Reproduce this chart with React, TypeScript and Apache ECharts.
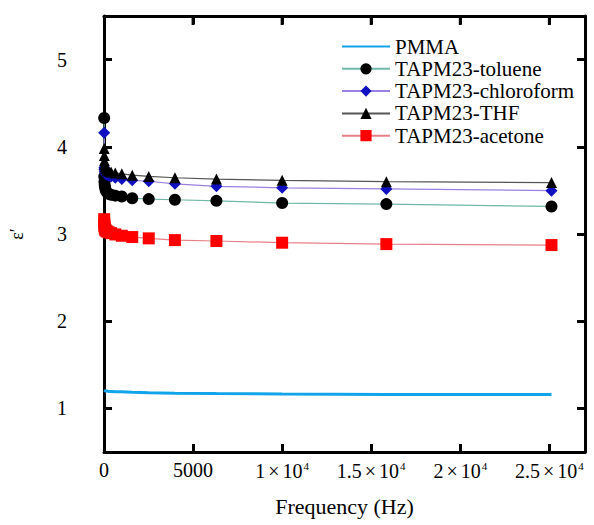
import React, { useEffect, useRef } from "react";
import * as echarts from "echarts";

const frequencies = [10, 15.85, 25.12, 39.81, 63.1, 100, 158.5, 251.2, 398.1, 631, 1000, 1585, 2512, 3981, 6310, 10000, 15849, 25119];
const pmma = [1.21, 1.21, 1.205, 1.205, 1.2, 1.2, 1.2, 1.195, 1.195, 1.19, 1.19, 1.185, 1.18, 1.175, 1.17, 1.165, 1.16, 1.16];
const toluene = [4.33, 3.66, 3.6, 3.56, 3.53, 3.5, 3.48, 3.46, 3.45, 3.44, 3.43, 3.41, 3.4, 3.393, 3.38, 3.355, 3.343, 3.316];
const chloroform = [4.16, 3.76, 3.74, 3.72, 3.7, 3.69, 3.68, 3.67, 3.66, 3.645, 3.63, 3.616, 3.605, 3.575, 3.547, 3.53, 3.517, 3.497];
const thf = [3.98, 3.9, 3.84, 3.8, 3.77, 3.75, 3.73, 3.72, 3.71, 3.7, 3.69, 3.675, 3.66, 3.645, 3.63, 3.615, 3.6, 3.59];
const acetone = [3.17, 3.12, 3.09, 3.07, 3.05, 3.04, 3.03, 3.02, 3.01, 2.995, 2.98, 2.965, 2.95, 2.93, 2.92, 2.9, 2.884, 2.873];
const yTicks = [1, 2, 3, 4, 5];
const xTicks = [0, 5000, 10000, 15000, 20000, 25000];

const FONT = "Liberation Serif";
const Y_MIN = 0.5;
const Y_MAX = 5.5;

const pairs = (ys: number[]) => frequencies.map((f, i) => [f, ys[i]]);

export default function App() {
  const ref = useRef<HTMLDivElement>(null);
  useEffect(() => {
    if (!ref.current) return;
    const chart = echarts.init(ref.current, null, { renderer: "svg" });
    const mkLine = () => ({ show: true, onZero: false, lineStyle: { color: "#000", width: 3 } });
    const mkTick = (vals: number[]) => ({ show: true, inside: true, length: 8, customValues: vals, lineStyle: { color: "#000", width: 3 } });
    const xLabel = (v: number) => {
      if (v === 0) return "0";
      if (v === 5000) return "5000";
      const m = v / 10000;
      return `${m}{x|×}10{sup|4}`;
    };
    chart.setOption({
      animation: false,
      backgroundColor: "#fff",
      textStyle: { fontFamily: FONT },
      grid: { left: 104, right: 9, top: 16, bottom: 73 },
      legend: {
        left: 341,
        top: 36,
        orient: "vertical",
        padding: 0,
        itemWidth: 48,
        itemHeight: 14,
        itemGap: 1.3,
        textStyle: { fontFamily: FONT, fontSize: 21, color: "#000", lineHeight: 20 },
        data: [
          { name: "PMMA", itemStyle: { opacity: 0 } },
          "TAPM23-toluene",
          "TAPM23-chloroform",
          "TAPM23-THF",
          "TAPM23-acetone",
        ],
      },
      xAxis: [
        {
          type: "value",
          gridIndex: 0,
          min: 0,
          max: 27000,
          position: "bottom",
          name: "Frequency (Hz)",
          nameLocation: "middle",
          nameGap: 43,
          nameTextStyle: { fontFamily: FONT, fontSize: 22, color: "#000" },
          axisLine: mkLine(),
          axisTick: mkTick(xTicks.slice(1)),
          splitLine: { show: false },
          axisLabel: {
            customValues: xTicks,
            margin: 8,
            color: "#000",
            fontFamily: FONT,
            fontSize: 20,
            formatter: xLabel,
            rich: {
              x: { fontFamily: FONT, fontSize: 20, color: "#000", padding: [0, 3, 0, 3] },
              sup: { fontFamily: FONT, fontSize: 11, verticalAlign: "top", padding: [0, 0, 10, 1], color: "#000" },
            },
          },
        },
        {
          type: "value",
          gridIndex: 0,
          show: true,
          min: 0,
          max: 27000,
          position: "top",
          axisLine: mkLine(),
          axisTick: mkTick(xTicks.slice(1)),
          axisLabel: { show: false },
          splitLine: { show: false },
        },
      ],
      yAxis: [
        {
          type: "value",
          gridIndex: 0,
          min: Y_MIN,
          max: Y_MAX,
          position: "left",
          name: "ε′",
          nameLocation: "middle",
          nameRotate: 90,
          nameGap: 78,
          nameTextStyle: { fontFamily: FONT, fontSize: 18, color: "#000" },
          axisLine: mkLine(),
          axisTick: mkTick(yTicks),
          splitLine: { show: false },
          axisLabel: { customValues: yTicks, margin: 37, color: "#000", fontFamily: FONT, fontSize: 20 },
        },
        {
          type: "value",
          gridIndex: 0,
          show: true,
          min: Y_MIN,
          max: Y_MAX,
          position: "right",
          axisLine: mkLine(),
          axisTick: mkTick(yTicks),
          splitLine: { show: false },
          axisLabel: { show: false },
        },
      ],
      series: [
        {
          name: "PMMA",
          type: "line",
          data: pairs(pmma),
          symbol: "none",
          itemStyle: { color: "#12a4ea" },
          lineStyle: { color: "#12a4ea", width: 3 },
        },
        {
          name: "TAPM23-toluene",
          type: "line",
          data: pairs(toluene),
          symbol: "circle",
          symbolSize: 12,
          itemStyle: { color: "#000" },
          lineStyle: { color: "#6fb8aa", width: 1.2 },
        },
        {
          name: "TAPM23-chloroform",
          type: "line",
          data: pairs(chloroform),
          symbol: "diamond",
          symbolSize: 12,
          itemStyle: { color: "#1010c0" },
          lineStyle: { color: "#9a80e0", width: 1.2 },
        },
        {
          name: "TAPM23-THF",
          type: "line",
          data: pairs(thf),
          symbol: "triangle",
          symbolSize: 11,
          itemStyle: { color: "#000" },
          lineStyle: { color: "#555", width: 1.2 },
        },
        {
          name: "TAPM23-acetone",
          type: "line",
          data: pairs(acetone),
          symbol: "rect",
          symbolSize: 12,
          itemStyle: { color: "#ff0000" },
          lineStyle: { color: "#e8808a", width: 1.2 },
        },
        {
          name: "topTicks",
          type: "custom",
          silent: true,
          clip: false,
          data: xTicks.slice(1).map((v) => [v]),
          renderItem: (_params: any, api: any) => {
            const p = api.coord([api.value(0), Y_MAX]);
            return {
              type: "line",
              shape: { x1: p[0], y1: p[1], x2: p[0], y2: p[1] + 9 },
              style: { stroke: "#000", lineWidth: 3 },
            };
          },
        },
      ],
    });
    return () => chart.dispose();
  }, []);
  return <div ref={ref} style={{ position: "fixed", left: 0, top: 0, width: 594, height: 525 }} />;
}
